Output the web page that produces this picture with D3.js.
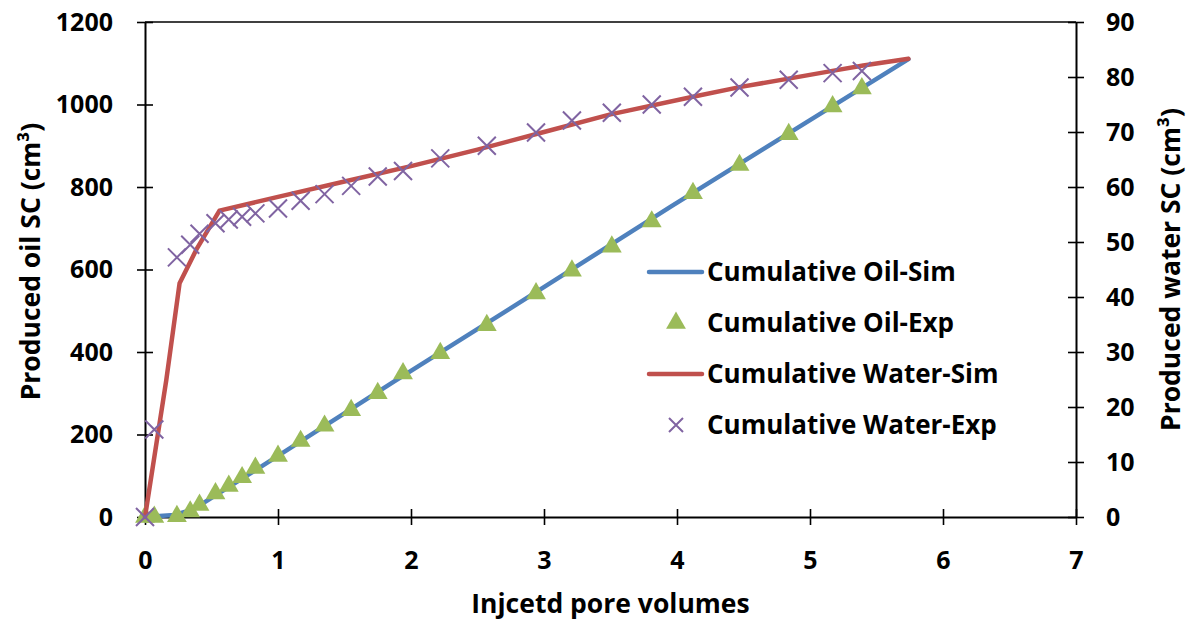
<!DOCTYPE html>
<html>
<head>
<meta charset="utf-8">
<script src="https://cdn.jsdelivr.net/npm/d3@7"></script>
<style>
  html, body { margin: 0; padding: 0; background: #fff; }
  svg { display: block; }
  text { font-family: "Open Sans", Lato, sans-serif; font-weight: bold; fill: #000; }
</style>
</head>
<body>
<svg id="chart" width="1189" height="624"></svg>
<script>
// Injected pore volumes at which the core-flood samples were taken
const expPV = [0, 0.07, 0.24, 0.34, 0.41, 0.53, 0.63, 0.73, 0.83, 1.00, 1.17, 1.35, 1.55,
  1.75, 1.94, 2.22, 2.57, 2.94, 3.21, 3.51, 3.81, 4.12, 4.47, 4.84, 5.17, 5.39];
// Measured cumulative oil (cm3, left axis)
const oilExp = [0, 0, 2, 13, 29, 57, 75, 96, 119, 148, 184, 221, 259,
  300, 348, 397, 465, 542, 597, 655, 716, 785, 853, 928, 995, 1039];
// Measured cumulative water (cm3, right axis)
const waterExp = [0, 15.9, 47.2, 49.5, 51.5, 53.4, 54.1, 54.6, 55.2, 56.1, 57.5, 58.7, 60.2,
  61.9, 62.9, 65.2, 67.5, 69.9, 72.1, 73.5, 75.0, 76.4, 78.1, 79.5, 80.7, 81.1];

// Simulated cumulative oil
const oilSimPV = [0, 0.22, 0.36, 1.0, 1.88, 2.94, 3.95, 5.0, 5.74];
const oilSim = [0, 5, 18, 148, 330, 545, 752, 962, 1110];

// Simulated cumulative water
const waterSimPV = [0, 0.16, 0.26, 0.39, 0.56, 1.0, 1.5, 2.0, 2.5, 3.0, 3.5, 4.12, 4.48, 4.86, 5.19, 5.40, 5.74];
const waterSim = [0, 24.9, 42.5, 48.8, 55.7, 58.2, 61.0, 63.8, 66.8, 70.0, 73.2, 76.4, 78.2, 79.8, 81.2, 82.1, 83.3];

// Axis ticks
const xTicks = [0, 1, 2, 3, 4, 5, 6, 7];
const leftTicks = [0, 200, 400, 600, 800, 1000, 1200];
const rightTicks = [0, 10, 20, 30, 40, 50, 60, 70, 80, 90];

const legendLabels = ["Cumulative Oil-Sim", "Cumulative Oil-Exp", "Cumulative Water-Sim", "Cumulative Water-Exp"];

const C = { blue: "#4F81BD", red: "#C0504D", green: "#9BBB59", purple: "#8064A2" };

const plot = { left: 145, right: 1076, top: 22, bottom: 517 };

const svg = d3.select("#chart");
svg.append("rect").attr("width", 1189).attr("height", 624).attr("fill", "#fff");

const x = d3.scaleLinear().domain([0, 7]).range([plot.left, plot.right]);
const yL = d3.scaleLinear().domain([0, 1200]).range([plot.bottom, plot.top]);
const yR = d3.scaleLinear().domain([0, 90]).range([plot.bottom, plot.top]);

// plot frame top edge
svg.append("line")
  .attr("x1", plot.left).attr("x2", plot.right)
  .attr("y1", plot.top).attr("y2", plot.top)
  .attr("stroke", "#000").attr("stroke-width", 1.5);

function styleAxis(g, dir) {
  g.select(".domain").attr("stroke", "#000").attr("stroke-width", 2);
  g.selectAll(".tick line").attr("stroke", "#000").attr("stroke-width", 1.6);
  g.selectAll(".tick text").attr("font-size", 25).attr("font-family", "Open Sans").attr("font-weight", "bold").attr("fill", "#000");
  // ticks cross the axis line
  if (dir === "left") g.selectAll(".tick line").attr("x1", 8);
  if (dir === "right") g.selectAll(".tick line").attr("x1", -8);
  if (dir === "bottom") g.selectAll(".tick line").attr("y1", -8);
}

const gx = svg.append("g").attr("transform", `translate(0,${plot.bottom})`)
  .call(d3.axisBottom(x).tickValues(xTicks).tickFormat(d3.format("d")).tickSize(8).tickSizeOuter(0).tickPadding(26));
styleAxis(gx, "bottom");

const gl = svg.append("g").attr("transform", `translate(${plot.left},0)`)
  .call(d3.axisLeft(yL).tickValues(leftTicks).tickFormat(d3.format("d")).tickSize(8).tickSizeOuter(0).tickPadding(24));
styleAxis(gl, "left");

const gr = svg.append("g").attr("transform", `translate(${plot.right},0)`)
  .call(d3.axisRight(yR).tickValues(rightTicks).tickFormat(d3.format("d")).tickSize(8).tickSizeOuter(0).tickPadding(22));
styleAxis(gr, "right");

// axis titles
svg.append("text").attr("x", (plot.left + plot.right) / 2).attr("y", 613)
  .attr("text-anchor", "middle").attr("font-size", 26.5).text("Injcetd pore volumes");
svg.append("text").attr("transform", `translate(40,${(plot.top + plot.bottom) / 2 - 8}) rotate(-90)`)
  .attr("text-anchor", "middle").attr("font-size", 26.5).text("Produced oil SC (cm³)");
svg.append("text").attr("transform", `translate(1180,${(plot.top + plot.bottom) / 2}) rotate(-90)`)
  .attr("text-anchor", "middle").attr("font-size", 26.5).text("Produced water SC (cm³)");

// series
const oilLine = d3.line().x(d => x(d[0])).y(d => yL(d[1]));
const waterLine = d3.line().x(d => x(d[0])).y(d => yR(d[1]));

const triangle = d3.symbol().type(d3.symbolTriangle).size(170);

svg.append("path")
  .datum(oilSimPV.map((v, i) => [v, oilSim[i]]))
  .attr("d", oilLine).attr("fill", "none").attr("stroke", C.blue)
  .attr("stroke-width", 4.5).attr("stroke-linejoin", "round").attr("stroke-linecap", "round");

svg.append("g").selectAll("path")
  .data(expPV.map((v, i) => [v, oilExp[i]]))
  .join("path")
  .attr("transform", d => `translate(${x(d[0])},${yL(d[1])})`)
  .attr("d", triangle).attr("fill", C.green);

svg.append("path")
  .datum(waterSimPV.map((v, i) => [v, waterSim[i]]))
  .attr("d", waterLine).attr("fill", "none").attr("stroke", C.red)
  .attr("stroke-width", 4.5).attr("stroke-linejoin", "round").attr("stroke-linecap", "round");

const crossPath = "M-9,-9L9,9M-9,9L9,-9";
svg.append("g").selectAll("path")
  .data(expPV.map((v, i) => [v, waterExp[i]]))
  .join("path")
  .attr("transform", d => `translate(${x(d[0])},${yR(d[1])})`)
  .attr("d", crossPath).attr("fill", "none").attr("stroke", C.purple).attr("stroke-width", 2);

// legend
const legRows = [272, 323, 374, 425];
const leg = svg.append("g");
leg.append("line").attr("x1", 649).attr("x2", 702).attr("y1", legRows[0]).attr("y2", legRows[0])
  .attr("stroke", C.blue).attr("stroke-width", 4.5).attr("stroke-linecap", "round");
leg.append("path").attr("transform", `translate(676,${legRows[1]})`).attr("d", triangle).attr("fill", C.green);
leg.append("line").attr("x1", 649).attr("x2", 702).attr("y1", legRows[2]).attr("y2", legRows[2])
  .attr("stroke", C.red).attr("stroke-width", 4.5).attr("stroke-linecap", "round");
leg.append("path").attr("transform", `translate(676,${legRows[3]})`).attr("d", "M-7,-7L7,7M-7,7L7,-7")
  .attr("fill", "none").attr("stroke", C.purple).attr("stroke-width", 2);
leg.selectAll("text").data(legendLabels).join("text")
  .attr("x", 707).attr("y", (d, i) => legRows[i]).attr("dy", "0.35em")
  .attr("font-size", 26).text(d => d);
</script>
</body>
</html>
